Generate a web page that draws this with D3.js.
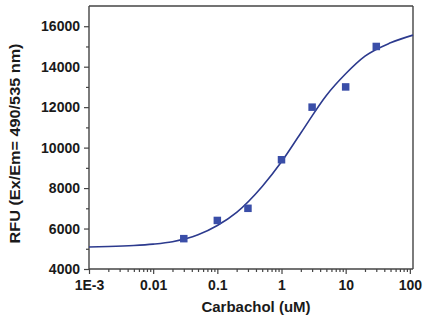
<!DOCTYPE html>
<html>
<head>
<meta charset="utf-8">
<script src="https://cdn.jsdelivr.net/npm/d3@7"></script>
<style>
  html, body { margin: 0; padding: 0; background: #fff; }
  svg { display: block; }
  text { font-family: "Liberation Sans", Arial, sans-serif; font-weight: bold; fill: #1a1a1a; }
</style>
</head>
<body>
<svg id="chart" width="426" height="326"></svg>
<script>
// Measured points
const concentrations = [0.03, 0.1, 0.3, 1, 3, 10, 30];
const rfuValues = [5500, 6400, 7000, 9400, 12000, 13000, 15000];

// Fitted curve
const curveX = [0.001, 0.002, 0.005, 0.01, 0.02, 0.05, 0.1, 0.2, 0.5, 1, 2, 5, 10, 20, 50, 112];
const curveY = [5090, 5110, 5160, 5230, 5350, 5690, 6150, 6800, 8080, 9300, 10720, 12580, 13650, 14520, 15180, 15560];

// Ticks
const xTickValues = [0.001, 0.01, 0.1, 1, 10, 100];
const xTickLabels = ["1E-3", "0.01", "0.1", "1", "10", "100"];
const yTickValues = [4000, 6000, 8000, 10000, 12000, 14000, 16000];
const yMinorTicks = [5000, 7000, 9000, 11000, 13000, 15000];

const xLabel = "Carbachol (uM)";
const yLabel = "RFU (Ex/Em= 490/535 nm)";

const svg = d3.select("#chart");
const L = 89, R = 413, T = 6, B = 269;
const axisColor = "#444";
const lineColor = "#2c3a8e";
const markColor = "#3a4ea8";

const x = d3.scaleLog().domain([0.001, 112]).range([L, R]);
const y = d3.scaleLinear().domain([4000, 17000]).range([B, T]);

// minor x ticks
const xMinor = [];
for (let e = -3; e <= 2; e++) {
  for (let m = 2; m <= 9; m++) {
    const v = m * Math.pow(10, e);
    if (v <= 112) xMinor.push(v);
  }
}

// Frame (top and right)
svg.append("line").attr("x1", L).attr("x2", R).attr("y1", T).attr("y2", T)
  .attr("stroke", axisColor).attr("stroke-width", 1.4);
svg.append("line").attr("x1", R).attr("x2", R).attr("y1", T).attr("y2", B)
  .attr("stroke", axisColor).attr("stroke-width", 1.4);

// X axis
const gx = svg.append("g").attr("transform", `translate(0,${B})`);
gx.call(d3.axisBottom(x).tickValues(xMinor).tickSize(3).tickFormat(""));
gx.call(g => g.selectAll(".domain").remove());
const gx2 = svg.append("g").attr("transform", `translate(0,${B})`)
  .call(d3.axisBottom(x).tickValues(xTickValues).tickSize(5).tickPadding(6)
    .tickFormat((d, i) => xTickLabels[i]));
gx2.selectAll("text").attr("font-size", 14).attr("font-family", "Liberation Sans, Arial, sans-serif");
[gx, gx2].forEach(g => {
  g.selectAll("line").attr("stroke", axisColor).attr("stroke-width", 1.2);
  g.selectAll(".domain").attr("stroke", axisColor).attr("stroke-width", 1.4);
});
gx2.select(".domain").attr("d", `M${L},0H${R}`);

// Y axis
const gy = svg.append("g").attr("transform", `translate(${L},0)`);
gy.call(d3.axisLeft(y).tickValues(yMinorTicks).tickSize(3).tickFormat(""));
gy.call(g => g.selectAll(".domain").remove());
const gy2 = svg.append("g").attr("transform", `translate(${L},0)`)
  .call(d3.axisLeft(y).tickValues(yTickValues).tickSize(5).tickPadding(4).tickFormat(d3.format("d")));
gy2.selectAll("text").attr("font-size", 14).attr("font-family", "Liberation Sans, Arial, sans-serif");
[gy, gy2].forEach(g => {
  g.selectAll("line").attr("stroke", axisColor).attr("stroke-width", 1.2);
});
gy2.select(".domain").attr("d", `M0,${T}V${B}`).attr("stroke", axisColor).attr("stroke-width", 1.4);

// Curve
const curveData = curveX.map((d, i) => [d, curveY[i]]);
svg.append("path")
  .datum(curveData)
  .attr("fill", "none")
  .attr("stroke", lineColor)
  .attr("stroke-width", 1.6)
  .attr("d", d3.line().x(d => x(d[0])).y(d => y(d[1])).curve(d3.curveMonotoneX));

// Markers
const ms = 7.5;
svg.append("g").selectAll("rect")
  .data(concentrations.map((d, i) => [d, rfuValues[i]]))
  .join("rect")
  .attr("x", d => x(d[0]) - ms / 2)
  .attr("y", d => y(d[1]) - ms / 2)
  .attr("width", ms).attr("height", ms)
  .attr("fill", markColor);

// Axis labels
svg.append("text")
  .attr("x", 256).attr("y", 312)
  .attr("text-anchor", "middle")
  .attr("font-size", 15)
  .text(xLabel);

svg.append("text")
  .attr("transform", "translate(19.5,143.5) rotate(-90)")
  .attr("text-anchor", "middle")
  .attr("font-size", 14)
  .attr("textLength", 200)
  .attr("lengthAdjust", "spacingAndGlyphs")
  .text(yLabel);
</script>
</body>
</html>
